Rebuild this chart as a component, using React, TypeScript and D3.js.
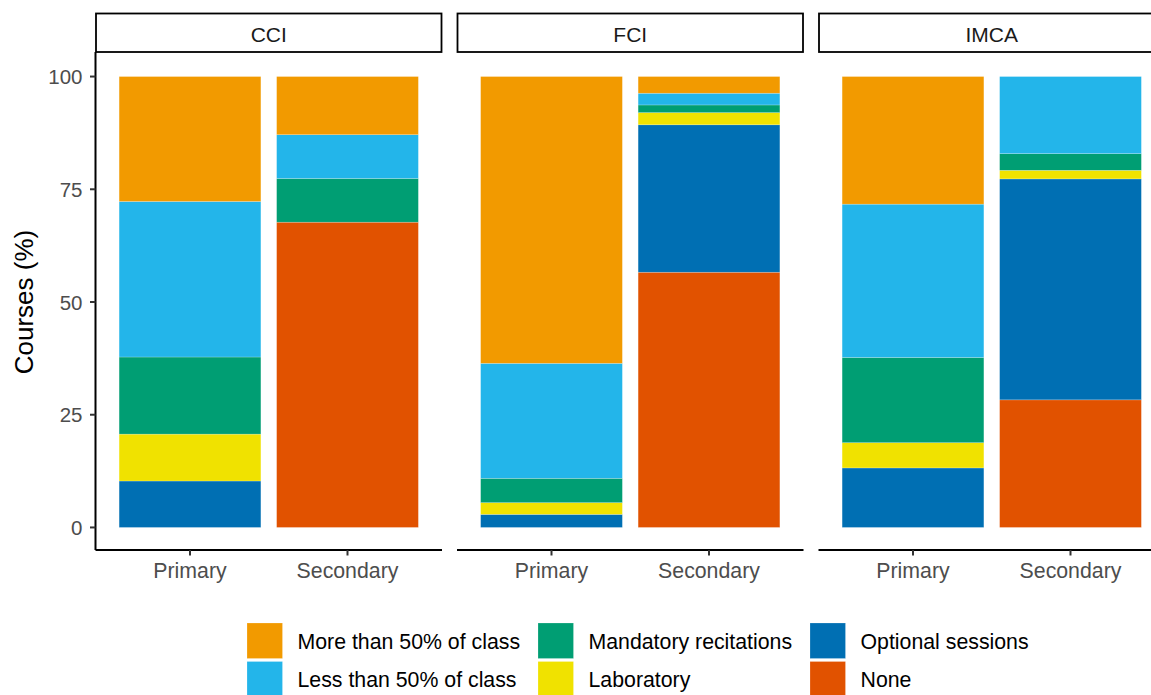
import React, { useEffect, useRef } from "react";
import * as d3 from "d3";

// facets and bars inside each facet
const facets = ["CCI", "FCI", "IMCA"];
const levels = ["Primary", "Secondary"];

// legend order (top of stack first)
const categories = [
  "More than 50% of class",
  "Less than 50% of class",
  "Mandatory recitations",
  "Laboratory",
  "Optional sessions",
  "None",
];
const palette = ["#F29A00", "#23B5EA", "#009E73", "#F0E200", "#006FB3", "#E15200"];

// percent of courses, order: CCI-P, CCI-S, FCI-P, FCI-S, IMCA-P, IMCA-S
const moreThan50 = [27.7, 12.9, 63.6, 3.7, 28.3, 0];
const lessThan50 = [34.5, 9.7, 25.5, 2.6, 34.0, 17.1];
const mandatory = [17.1, 9.7, 5.4, 1.7, 18.9, 3.7];
const laboratory = [10.4, 0, 2.6, 2.7, 5.6, 1.9];
const optional = [10.3, 0, 2.9, 32.7, 13.2, 49.0];
const none = [0, 67.7, 0, 56.6, 0, 28.3];

const yTicks = [0, 25, 50, 75, 100];

const App: React.FC = () => {
  const ref = useRef<SVGSVGElement | null>(null);

  useEffect(() => {
    if (!ref.current) return;
    const width = 1151;
    const height = 695;
    const svg = d3.select(ref.current);
    svg.selectAll("*").remove();
    svg.attr("width", width).attr("height", height);

    const font = "'Liberation Sans', Arial, sans-serif";
    const seriesVals = [moreThan50, lessThan50, mandatory, laboratory, optional, none];

    // one row per bar
    const rows = facets.flatMap((f, fi) =>
      levels.map((l, li) => {
        const row: any = { facet: f, level: l };
        categories.forEach((c, ci) => {
          row[c] = seriesVals[ci][fi * 2 + li];
        });
        return row;
      })
    );

    // d3.stack puts the first key at the bottom
    const stackKeys = [...categories].reverse();
    const stacked = d3.stack().keys(stackKeys)(rows);
    const color = d3.scaleOrdinal<string, string>().domain(categories).range(palette);

    const stripTop = 13.5;
    const stripBottom = 52;
    const panelTop = 54;
    const panelBottom = 550;
    const panelW = 346.5;
    const panelStep = 361.5;
    const firstLeft = 95.5;

    const y = d3.scaleLinear().domain([-5, 105]).range([panelBottom, panelTop]);

    facets.forEach((f, fi) => {
      const x0 = firstLeft + fi * panelStep;
      const x = d3
        .scaleBand()
        .domain(levels)
        .range([x0, x0 + panelW])
        .paddingInner(0.1)
        .paddingOuter(0.15);

      const g = svg.append("g");

      // bars
      stacked.forEach((layer) => {
        layer.forEach((d: any) => {
          if (d.data.facet !== f) return;
          if (d[1] - d[0] <= 0) return;
          g.append("rect")
            .attr("x", x(d.data.level)!)
            .attr("width", x.bandwidth())
            .attr("y", y(d[1]))
            .attr("height", y(d[0]) - y(d[1]))
            .attr("fill", color(layer.key))
            .attr("stroke", "#ffffff")
            .attr("stroke-opacity", 0.35)
            .attr("stroke-width", 0.6);
        });
      });

      // strip
      g.append("rect")
        .attr("x", x0 + 0.5)
        .attr("y", stripTop)
        .attr("width", panelW - 1)
        .attr("height", stripBottom - stripTop)
        .attr("fill", "#ffffff")
        .attr("stroke", "#000000")
        .attr("stroke-width", 1.8);
      g.append("text")
        .attr("x", x0 + panelW / 2)
        .attr("y", 34)
        .attr("text-anchor", "middle")
        .attr("dominant-baseline", "central")
        .attr("fill", "#1A1A1A")
        .attr("font-family", font)
        .attr("font-size", "21px")
        .text(f);

      // x axis
      g.append("line")
        .attr("x1", x0)
        .attr("x2", x0 + panelW)
        .attr("y1", panelBottom)
        .attr("y2", panelBottom)
        .attr("stroke", "#000000")
        .attr("stroke-width", 2);
      levels.forEach((l) => {
        const cx = x(l)! + x.bandwidth() / 2;
        g.append("line")
          .attr("x1", cx)
          .attr("x2", cx)
          .attr("y1", panelBottom)
          .attr("y2", panelBottom + 5.5)
          .attr("stroke", "#333333")
          .attr("stroke-width", 2);
        g.append("text")
          .attr("x", cx)
          .attr("y", 578)
          .attr("text-anchor", "middle")
          .attr("fill", "#4D4D4D")
          .attr("font-family", font)
          .attr("font-size", "21.3px")
          .text(l);
      });

      // y axis only on the first panel
      if (fi === 0) {
        g.append("line")
          .attr("x1", x0)
          .attr("x2", x0)
          .attr("y1", panelTop - 2)
          .attr("y2", panelBottom)
          .attr("stroke", "#000000")
          .attr("stroke-width", 2);
        yTicks.forEach((t) => {
          g.append("line")
            .attr("x1", x0 - 5.5)
            .attr("x2", x0)
            .attr("y1", y(t))
            .attr("y2", y(t))
            .attr("stroke", "#333333")
            .attr("stroke-width", 2);
          g.append("text")
            .attr("x", x0 - 13)
            .attr("y", y(t))
            .attr("text-anchor", "end")
            .attr("dominant-baseline", "central")
            .attr("fill", "#4D4D4D")
            .attr("font-family", font)
            .attr("font-size", "20.5px")
            .text(t);
        });
      }
    });

    // y title
    svg
      .append("text")
      .attr("transform", `translate(33,${(panelTop + panelBottom) / 2}) rotate(-90)`)
      .attr("text-anchor", "middle")
      .attr("fill", "#000000")
      .attr("font-family", font)
      .attr("font-size", "26px")
      .text("Courses (%)");

    // legend, 2 rows filled by column
    const legendCols = [247, 538, 810];
    const legendRows = [623, 661.5];
    const keySize = 35.5;
    categories.forEach((c, i) => {
      const col = Math.floor(i / 2);
      const row = i % 2;
      const lx = legendCols[col];
      const ly = legendRows[row];
      svg
        .append("rect")
        .attr("x", lx)
        .attr("y", ly)
        .attr("width", keySize)
        .attr("height", keySize)
        .attr("fill", color(c))
        .attr("stroke", "#ffffff")
        .attr("stroke-opacity", 0.35)
        .attr("stroke-width", 0.6);
      svg
        .append("text")
        .attr("x", lx + keySize + 15)
        .attr("y", ly + keySize / 2 + 1)
        .attr("dominant-baseline", "central")
        .attr("fill", "#000000")
        .attr("font-family", font)
        .attr("font-size", "21.3px")
        .text(c);
    });
  }, []);

  return (
    <svg
      ref={ref}
      style={{ position: "absolute", left: 0, top: 0, background: "#ffffff" }}
    />
  );
};

export default App;
